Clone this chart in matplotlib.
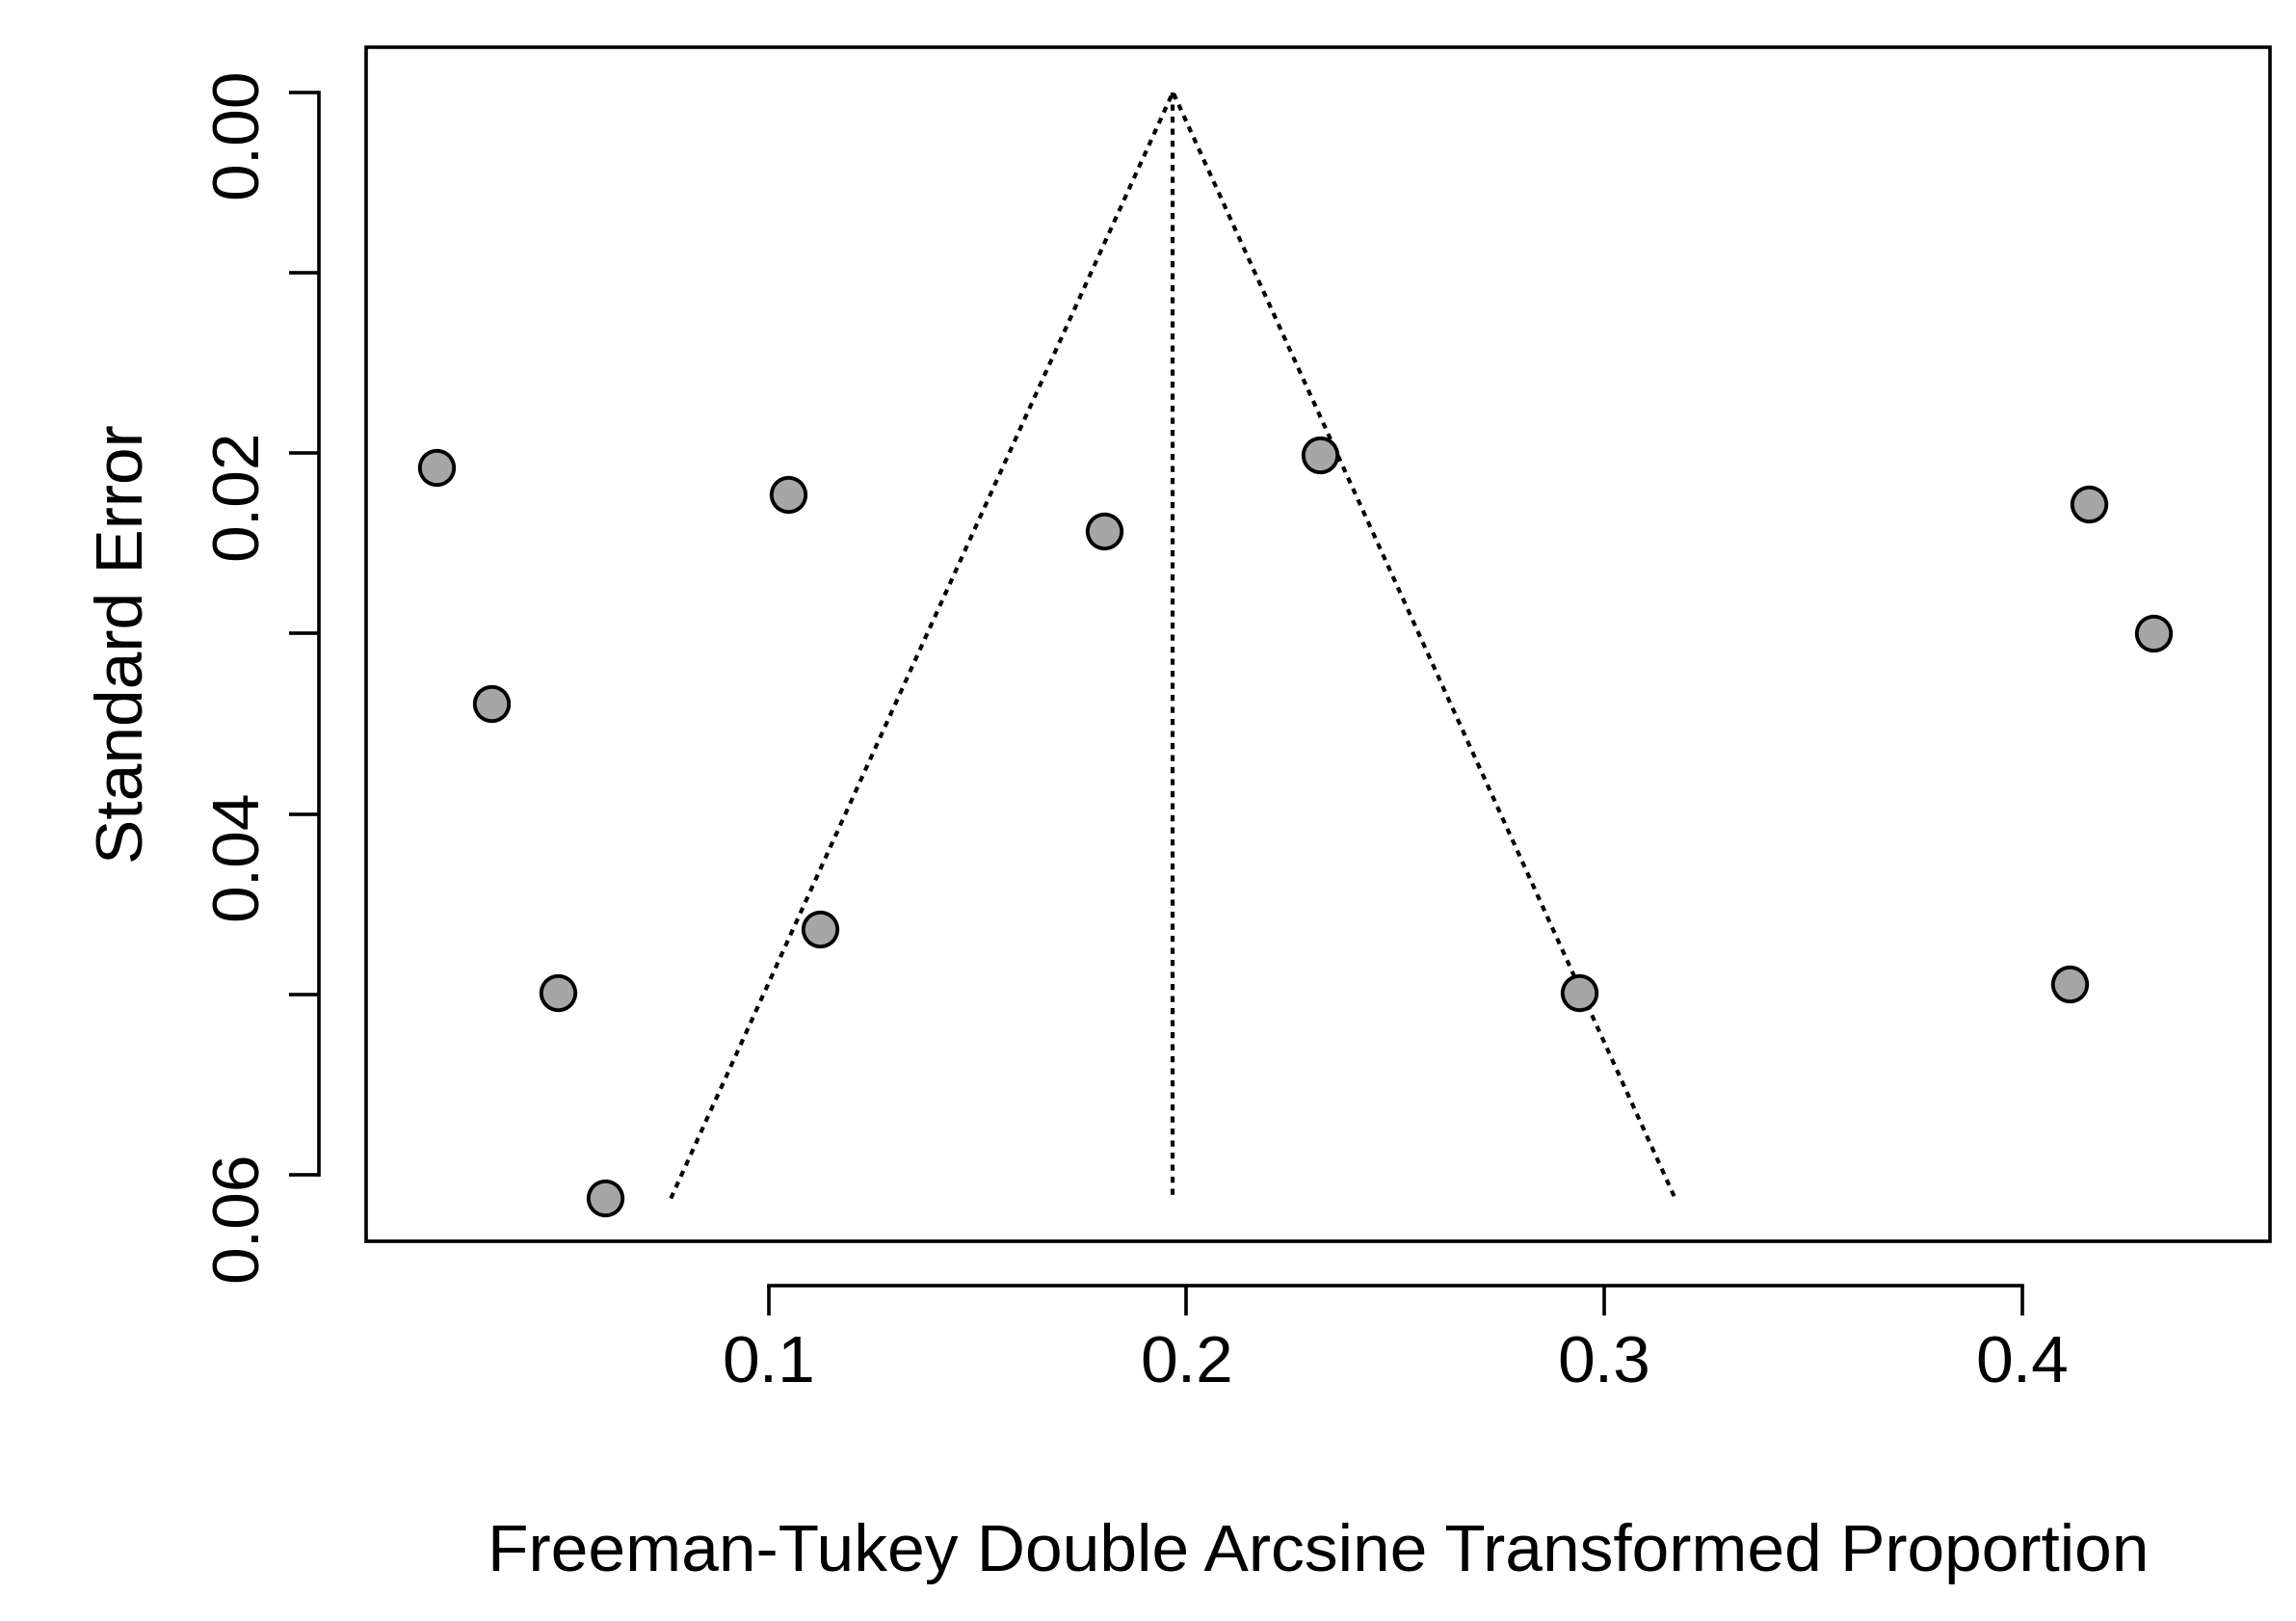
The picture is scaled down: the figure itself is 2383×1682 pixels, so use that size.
import matplotlib
matplotlib.use("Agg")
import matplotlib.pyplot as plt
from matplotlib.patches import Rectangle
import numpy as np

plt.rcParams['font.family'] = ['Liberation Sans', 'DejaVu Sans']

effect = [0.0205, 0.0338, 0.0496, 0.0608, 0.1046, 0.1123, 0.1804, 0.2319, 0.2939, 0.4159, 0.4313, 0.4114]
se = [0.0208, 0.0339, 0.0499, 0.0613, 0.0223, 0.0464, 0.0243, 0.0201, 0.0499, 0.0228, 0.0300, 0.0494]
pooled = 0.1968
se_max = 0.0613
xticks = [0.1, 0.2, 0.3, 0.4]
yticks = [0.00, 0.01, 0.02, 0.03, 0.04, 0.05, 0.06]
ytick_labels = ['0.00', '', '0.02', '', '0.04', '', '0.06']

fig = plt.figure(figsize=(23.83, 16.82), dpi=100)
ax = fig.add_axes([0.1594, 0.234, 0.8291, 0.737])

ax.plot([pooled - 1.96 * se_max, pooled, pooled + 1.96 * se_max], [se_max, 0, se_max],
        ls=(0, (1.5, 1.5)), color='black', lw=3)
ax.plot([pooled, pooled], [0, se_max], ls=(0, (1.5, 1.5)), color='black', lw=3)
ax.scatter(effect, se, s=650, facecolor='#a6a6a6', edgecolor='black', linewidths=2.8, zorder=3)

ax.set_xlim(0.0037, 0.4592)
ax.set_ylim(0.0637, -0.0025)
ax.set_xticks(xticks)
ax.set_xticklabels([str(v) for v in xticks])
ax.set_yticks(yticks)
ax.set_yticklabels(ytick_labels, va='center')

for s in ['top', 'right']:
    ax.spines[s].set_visible(False)
ax.spines['left'].set_position(('outward', 35))
ax.spines['bottom'].set_position(('outward', 33))
ax.spines['left'].set_bounds(0, 0.06)
ax.spines['bottom'].set_bounds(0.1, 0.4)
for s in ['left', 'bottom']:
    ax.spines[s].set_linewidth(2.6)
ax.add_patch(Rectangle((0, 0), 1, 1, transform=ax.transAxes, fill=False, lw=2.6, clip_on=False))

ax.tick_params(axis='both', labelsize=50, width=2.6, length=22, pad=14)
ax.tick_params(axis='y', labelrotation=90)
ax.set_xlabel('Freeman-Tukey Double Arcsine Transformed Proportion', fontsize=50, labelpad=95)
ax.set_ylabel('Standard Error', fontsize=50, labelpad=40)

fig.savefig('out.png', dpi=100)
